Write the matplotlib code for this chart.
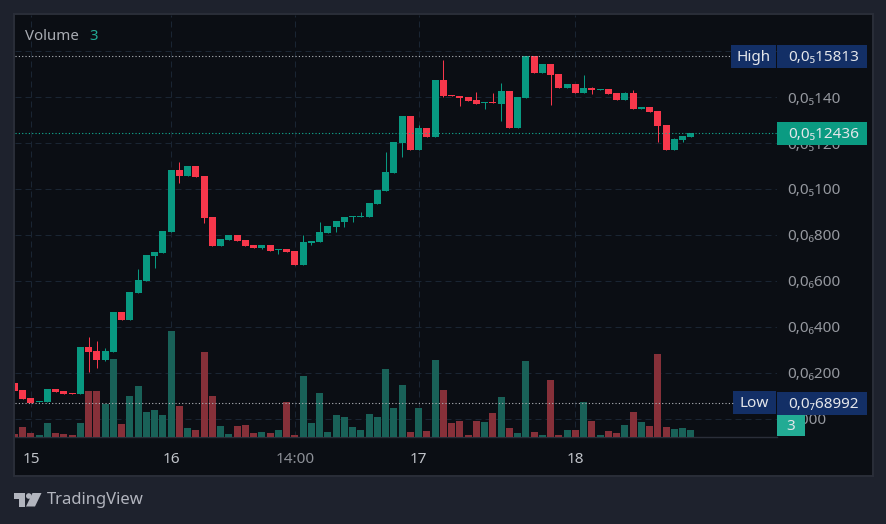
import matplotlib
matplotlib.use("Agg")
import matplotlib.pyplot as plt
from matplotlib.patches import Rectangle, Polygon, Circle

plt.rcParams['font.family'] = ['Noto Sans', 'DejaVu Sans']

# prices in units of 1e-6
opens = [.155, .124, .089, .072, .072, .129, .120, .111, .107, .312, .294, .255, .290, .464, .429, .547,
         .599, .708, .721, .813, 1.083, 1.057, 1.100, 1.057, .878, .752, .778, .800, .778, .756, .743, .756,
         .734, .739, .730, .669, .765, .769, .808, .834, .856, .878, .878, .878, .935, .991, 1.070, 1.200,
         1.318, 1.170, 1.266, 1.227, 1.475, 1.410, 1.405, 1.401, 1.388, 1.375, 1.379, 1.370, 1.427, 1.266,
         1.397, 1.581, 1.505, 1.545, 1.501, 1.440, 1.458, 1.418, 1.440, 1.431, 1.436, 1.418, 1.388, 1.418,
         1.349, 1.357, 1.340, 1.279, 1.170, 1.214, 1.227]
highs = [.155, .124, .089, .076, .129, .129, .120, .111, .312, .355, .338, .307, .464, .464, .551, .651,
         .712, .725, .817, 1.083, 1.118, 1.100, 1.100, 1.057, .878, .782, .800, .800, .778, .756, .756, .756,
         .739, .739, .730, .800, .773, .856, .839, .861, .878, .882, .900, .939, .996, 1.161, 1.205, 1.318,
         1.318, 1.279, 1.266, 1.475, 1.562, 1.410, 1.405, 1.401, 1.423, 1.379, 1.418, 1.462, 1.427, 1.401,
         1.581, 1.581, 1.545, 1.545, 1.501, 1.458, 1.458, 1.497, 1.444, 1.436, 1.436, 1.418, 1.423, 1.431,
         1.357, 1.357, 1.340, 1.279, 1.222, 1.231, 1.2436]
lows = [.120, .085, .069, .072, .072, .115, .107, .107, .107, .203, .220, .251, .290, .429, .429, .547,
        .599, .656, .721, .813, 1.026, 1.057, 1.052, .852, .752, .752, .778, .773, .752, .743, .739, .730,
        .717, .725, .669, .669, .756, .769, .808, .813, .834, .856, .878, .878, .935, .991, 1.070, 1.139,
        1.170, 1.170, 1.227, 1.227, 1.401, 1.405, 1.362, 1.383, 1.370, 1.349, 1.375, 1.296, 1.266, 1.266,
        1.397, 1.505, 1.505, 1.366, 1.440, 1.440, 1.418, 1.418, 1.414, 1.431, 1.414, 1.388, 1.388, 1.349,
        1.349, 1.336, 1.205, 1.170, 1.170, 1.205, 1.227]
closes = [.120, .085, .069, .076, .129, .115, .107, .107, .312, .290, .255, .294, .464, .429, .551, .603,
          .712, .725, .817, 1.083, 1.057, 1.100, 1.052, .874, .752, .782, .800, .773, .752, .743, .756, .730,
          .739, .725, .669, .769, .773, .813, .839, .861, .878, .882, .882, .939, .996, 1.074, 1.205, 1.318,
          1.170, 1.266, 1.227, 1.475, 1.405, 1.405, 1.397, 1.383, 1.370, 1.379, 1.375, 1.427, 1.266, 1.401,
          1.581, 1.505, 1.545, 1.497, 1.440, 1.458, 1.418, 1.440, 1.431, 1.436, 1.414, 1.388, 1.418, 1.349,
          1.357, 1.336, 1.275, 1.170, 1.218, 1.231, 1.2436]
volumes = [1.2, 4.1, 1.6, 0.8, 5.8, 1.6, 1.2, 0.8, 5.8, 18.9, 18.9, 13.6, 32.1, 5.3, 16.9, 21.0,
           10.3, 11.1, 9.1, 43.6, 12.8, 3.7, 2.9, 35.0, 16.9, 4.5, 1.2, 4.5, 4.9, 1.6, 2.1, 1.6,
           2.9, 14.4, 0.8, 25.2, 5.9, 18.2, 2.2, 9.2, 8.4, 4.2, 3.0, 9.6, 8.4, 28.1, 12.1, 21.5,
           2.2, 12.1, 2.6, 31.8, 19.5, 5.9, 6.7, 0.9, 6.7, 6.3, 10.0, 16.6, 3.8, 1.8, 31.4, 2.2,
           0.9, 23.6, 0.9, 3.0, 3.0, 14.5, 6.7, 0.9, 2.6, 1.8, 5.1, 10.4, 6.3, 4.7, 34.3, 4.2,
           3.4, 3.8, 3.0]

price_ticks = [0, 0.2, 0.4, 0.6, 0.8, 1.0, 1.2, 1.4, 1.6]
price_labels = ["0,000", "0,0₆200", "0,0₆400", "0,0₆600", "0,0₆800", "0,0₅100", "0,0₅120", "0,0₅140", "0,0₅160"]
time_ticks = [2, 19, 34, 49, 68]
time_labels = ["15", "16", "14:00", "17", "18"]

high_price, low_price, last_price = 1.5813, 0.068992, 1.2436
high_text, low_text, last_text = "0,0₅15813", "0,0₇68992", "0,0₅12436"
last_volume = "3"

UP = "#089981"
DOWN = "#F7374B"
VOL_UP = "#196158"
VOL_DOWN = "#863039"
GRID = "#1a2533"
PANE = "#0b0e14"
OUTER = "#1e222d"
FRAME = "#2a2e39"
NAVY = "#132f66"
FS = 11


def py(price):
    # pixel row of a price, same mapping as the main axes
    return 418.5 - 229.5 * price


fig = plt.figure(figsize=(8.87, 5.24), dpi=100, facecolor=OUTER)

# background layer in pixel coordinates
bg = fig.add_axes([0, 0, 1, 1], zorder=-1)
bg.set_xlim(0, 887)
bg.set_ylim(524, 0)
bg.axis('off')
bg.add_patch(Rectangle((14, 14), 859, 462, fc=PANE, ec=FRAME, lw=1.4))

# main pane
pane_box = [15 / 887, (524 - 437) / 524, 762 / 887, 422 / 524]
ax = fig.add_axes(pane_box, zorder=1)
ax.patch.set_visible(False)
ax.set_xlim((15 - 14.5) / 8.247, (777 - 14.5) / 8.247)
ax.set_ylim((418.5 - 437) / 229.5, (418.5 - 15) / 229.5)
for side in ax.spines.values():
    side.set_visible(False)
ax.spines['bottom'].set_visible(True)
ax.spines['bottom'].set_color(FRAME)
ax.spines['bottom'].set_linewidth(1.0)
ax.set_axisbelow(True)
ax.grid(True, color=GRID, lw=0.72, ls=(0, (6, 4)))
ax.yaxis.tick_right()
ax.set_yticks(price_ticks)
ax.set_yticklabels(price_labels, fontsize=FS, color="#95989f", ha='left')
ax.set_xticks(time_ticks)
ax.set_xticklabels(time_labels, fontsize=FS, color="#c0c3c9")
ax.get_xticklabels()[2].set_color("#8d9097")
ax.tick_params(axis='y', length=0, pad=7.2)
ax.tick_params(axis='x', length=0, pad=10.6)

xs = list(range(len(opens)))
colors = [UP if c >= o else DOWN for o, c in zip(opens, closes)]
ax.vlines(xs, lows, highs, colors=colors, lw=0.72, zorder=3)
ax.bar(xs, [abs(c - o) for o, c in zip(opens, closes)], bottom=[min(o, c) for o, c in zip(opens, closes)],
       width=0.85, color=colors, zorder=4)

# volume on its own scale, same box
vol_ax = fig.add_axes(pane_box, zorder=2)
vol_ax.set_xlim(ax.get_xlim())
vol_ax.set_ylim(0, 422 / 2.43)
vol_ax.axis('off')
vol_colors = [VOL_UP if c >= o else VOL_DOWN for o, c in zip(opens, closes)]
vol_ax.bar(xs, volumes, width=0.85, color=vol_colors)

# labels and markers on top, pixel coordinates
top = fig.add_axes([0, 0, 1, 1], zorder=5)
top.set_xlim(0, 887)
top.set_ylim(524, 0)
top.axis('off')
top.patch.set_visible(False)

top.plot([15, 731], [py(high_price)] * 2, color="#b4b7bd", lw=0.8, ls=(0, (1, 2)))
top.plot([15, 733], [py(low_price)] * 2, color="#b4b7bd", lw=0.8, ls=(0, (1, 2)))
top.plot([15, 777], [py(last_price)] * 2, color="#12b398", lw=0.8, ls=(0, (1, 2)))


def tag(x0, x1, yc, text, color, txt_x=None, h=23):
    top.add_patch(Rectangle((x0, yc - h / 2), x1 - x0, h, fc=color, ec='none'))
    if txt_x is None:
        top.text((x0 + x1) / 2, yc + 1, text, color="#e4e6ea", fontsize=FS, ha='center', va='center')
    else:
        top.text(txt_x, yc + 1, text, color="#e4e6ea", fontsize=FS, ha='left', va='center')


tag(731, 776, py(high_price) + 0.5, "High", NAVY)
tag(777, 867, py(high_price) + 0.5, high_text, NAVY, txt_x=788.5)
tag(733, 776, py(low_price), "Low", NAVY)
tag(777, 867, py(low_price) + 0.5, low_text, NAVY, txt_x=788.5)
tag(777, 867, py(last_price), last_text, "#0b9b82", txt_x=788.5)
tag(777, 805, 425.5, last_volume, "#22ab94", h=21)

top.text(25, 36, "Volume", color="#a9acb3", fontsize=10.8, ha='left', va='center')
top.text(89, 36, last_volume, color="#22ab94", fontsize=10.8, ha='left', va='center')

# logo
logo = "#b2b5be"
top.add_patch(Polygon([(14, 493), (25, 493), (25, 506.5), (19, 506.5), (19, 498.7), (14, 498.7)], fc=logo, ec='none'))
top.add_patch(Circle((28.8, 496), 2.8, fc=logo, ec='none'))
top.add_patch(Polygon([(32.5, 493), (41.5, 493), (35, 506.5), (26, 506.5)], fc=logo, ec='none'))
top.text(46.5, 500.5, "TradingView", color=logo, fontsize=12, ha='left', va='center')

fig.savefig("out.png", dpi=100, facecolor=OUTER)
